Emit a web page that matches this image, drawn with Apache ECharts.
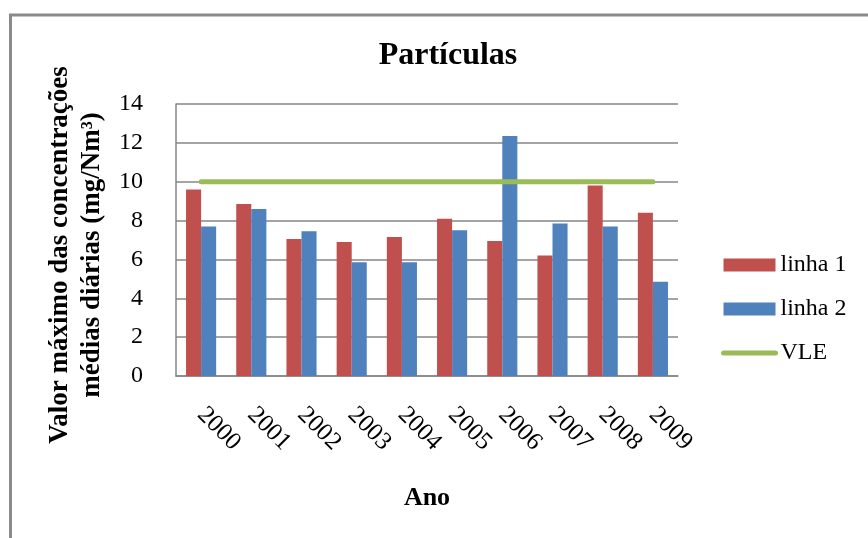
<!DOCTYPE html>
<html>
<head>
<meta charset="utf-8">
<script src="https://cdn.jsdelivr.net/npm/echarts@6/dist/echarts.min.js"></script>
<style>
html,body{margin:0;padding:0;background:#fff;}
#chart{width:868px;height:538px;}
</style>
</head>
<body>
<div id="chart"></div>
<script>
const categories = ['2000','2001','2002','2003','2004','2005','2006','2007','2008','2009'];
const linha1 = [9.6, 8.85, 7.05, 6.9, 7.15, 8.1, 6.95, 6.2, 9.8, 8.4];
const linha2 = [7.7, 8.6, 7.45, 5.85, 5.85, 7.5, 12.35, 7.85, 7.7, 4.85];
const vle = [10, 10, 10, 10, 10, 10, 10, 10, 10, 10];
const yTicks = {min: 0, max: 14, interval: 2};

const serif = '"Liberation Serif", "Times New Roman", serif';
const chart = echarts.init(document.getElementById('chart'), null, {renderer: 'canvas'});
chart.setOption({
  animation: false,
  backgroundColor: '#fff',
  graphic: [{
    type: 'polyline',
    shape: {points: [[10.5, 538], [10.5, 15], [868, 15]]},
    style: {stroke: '#8a8a8a', lineWidth: 3, fill: null},
    silent: true
  }],
  title: {
    text: 'Partículas',
    left: 443,
    top: 35,
    textAlign: 'center',
    textStyle: {fontFamily: serif, fontSize: 32, fontWeight: 'bold', color: '#000'}
  },
  legend: {
    orient: 'vertical',
    left: 716,
    top: 248,
    itemWidth: 52,
    itemHeight: 13,
    itemGap: 20,
    textStyle: {fontFamily: serif, fontSize: 24, color: '#000'},
    data: [
      {name: 'linha 1', icon: 'rect'},
      {name: 'linha 2', icon: 'rect'},
      {name: 'VLE',
       itemStyle: {color: 'rgba(0,0,0,0)', borderColor: 'rgba(0,0,0,0)', borderWidth: 0, opacity: 0},
       lineStyle: {width: 5, cap: 'round', color: '#9BBB59'}}
    ]
  },
  grid: {left: 176, right: 190, top: 104, bottom: 162, containLabel: false},
  xAxis: {
    type: 'category',
    data: categories,
    boundaryGap: true,
    name: 'Ano',
    nameLocation: 'middle',
    nameGap: 109,
    nameTextStyle: {fontFamily: serif, fontSize: 26, fontWeight: 'bold', color: '#000'},
    axisLine: {show: true, lineStyle: {color: '#868686', width: 1.5}},
    axisTick: {show: false},
    axisLabel: {interval: 0, rotate: -45, margin: 35, fontFamily: serif, fontSize: 25, color: '#000'}
  },
  yAxis: {
    type: 'value',
    min: yTicks.min,
    max: yTicks.max,
    interval: yTicks.interval,
    name: 'Valor máximo das concentrações\nmédias diárias (mg/Nm³)',
    nameLocation: 'middle',
    nameRotate: 90,
    nameGap: 62,
    nameTextStyle: {fontFamily: serif, fontSize: 27, fontWeight: 'bold', color: '#000', lineHeight: 32, padding: [0, 30, 0, 0]},
    axisLine: {show: true, lineStyle: {color: '#868686', width: 1.5}},
    axisTick: {show: false},
    axisLabel: {margin: 33, fontFamily: serif, fontSize: 24, color: '#000'},
    splitLine: {show: true, lineStyle: {color: '#868686', width: 1.5}}
  },
  series: [
    {name: 'linha 1', type: 'bar', data: linha1, barGap: '0%', barCategoryGap: '40%', itemStyle: {color: '#C0504D'}},
    {name: 'linha 2', type: 'bar', data: linha2, barGap: '0%', barCategoryGap: '40%', itemStyle: {color: '#4F81BD'}},
    {name: 'VLE', type: 'line', data: vle, symbol: 'none', showSymbol: false, z: 5,
     lineStyle: {color: '#9BBB59', width: 5, cap: 'round'}, itemStyle: {color: '#9BBB59'}}
  ]
});
</script>
</body>
</html>
